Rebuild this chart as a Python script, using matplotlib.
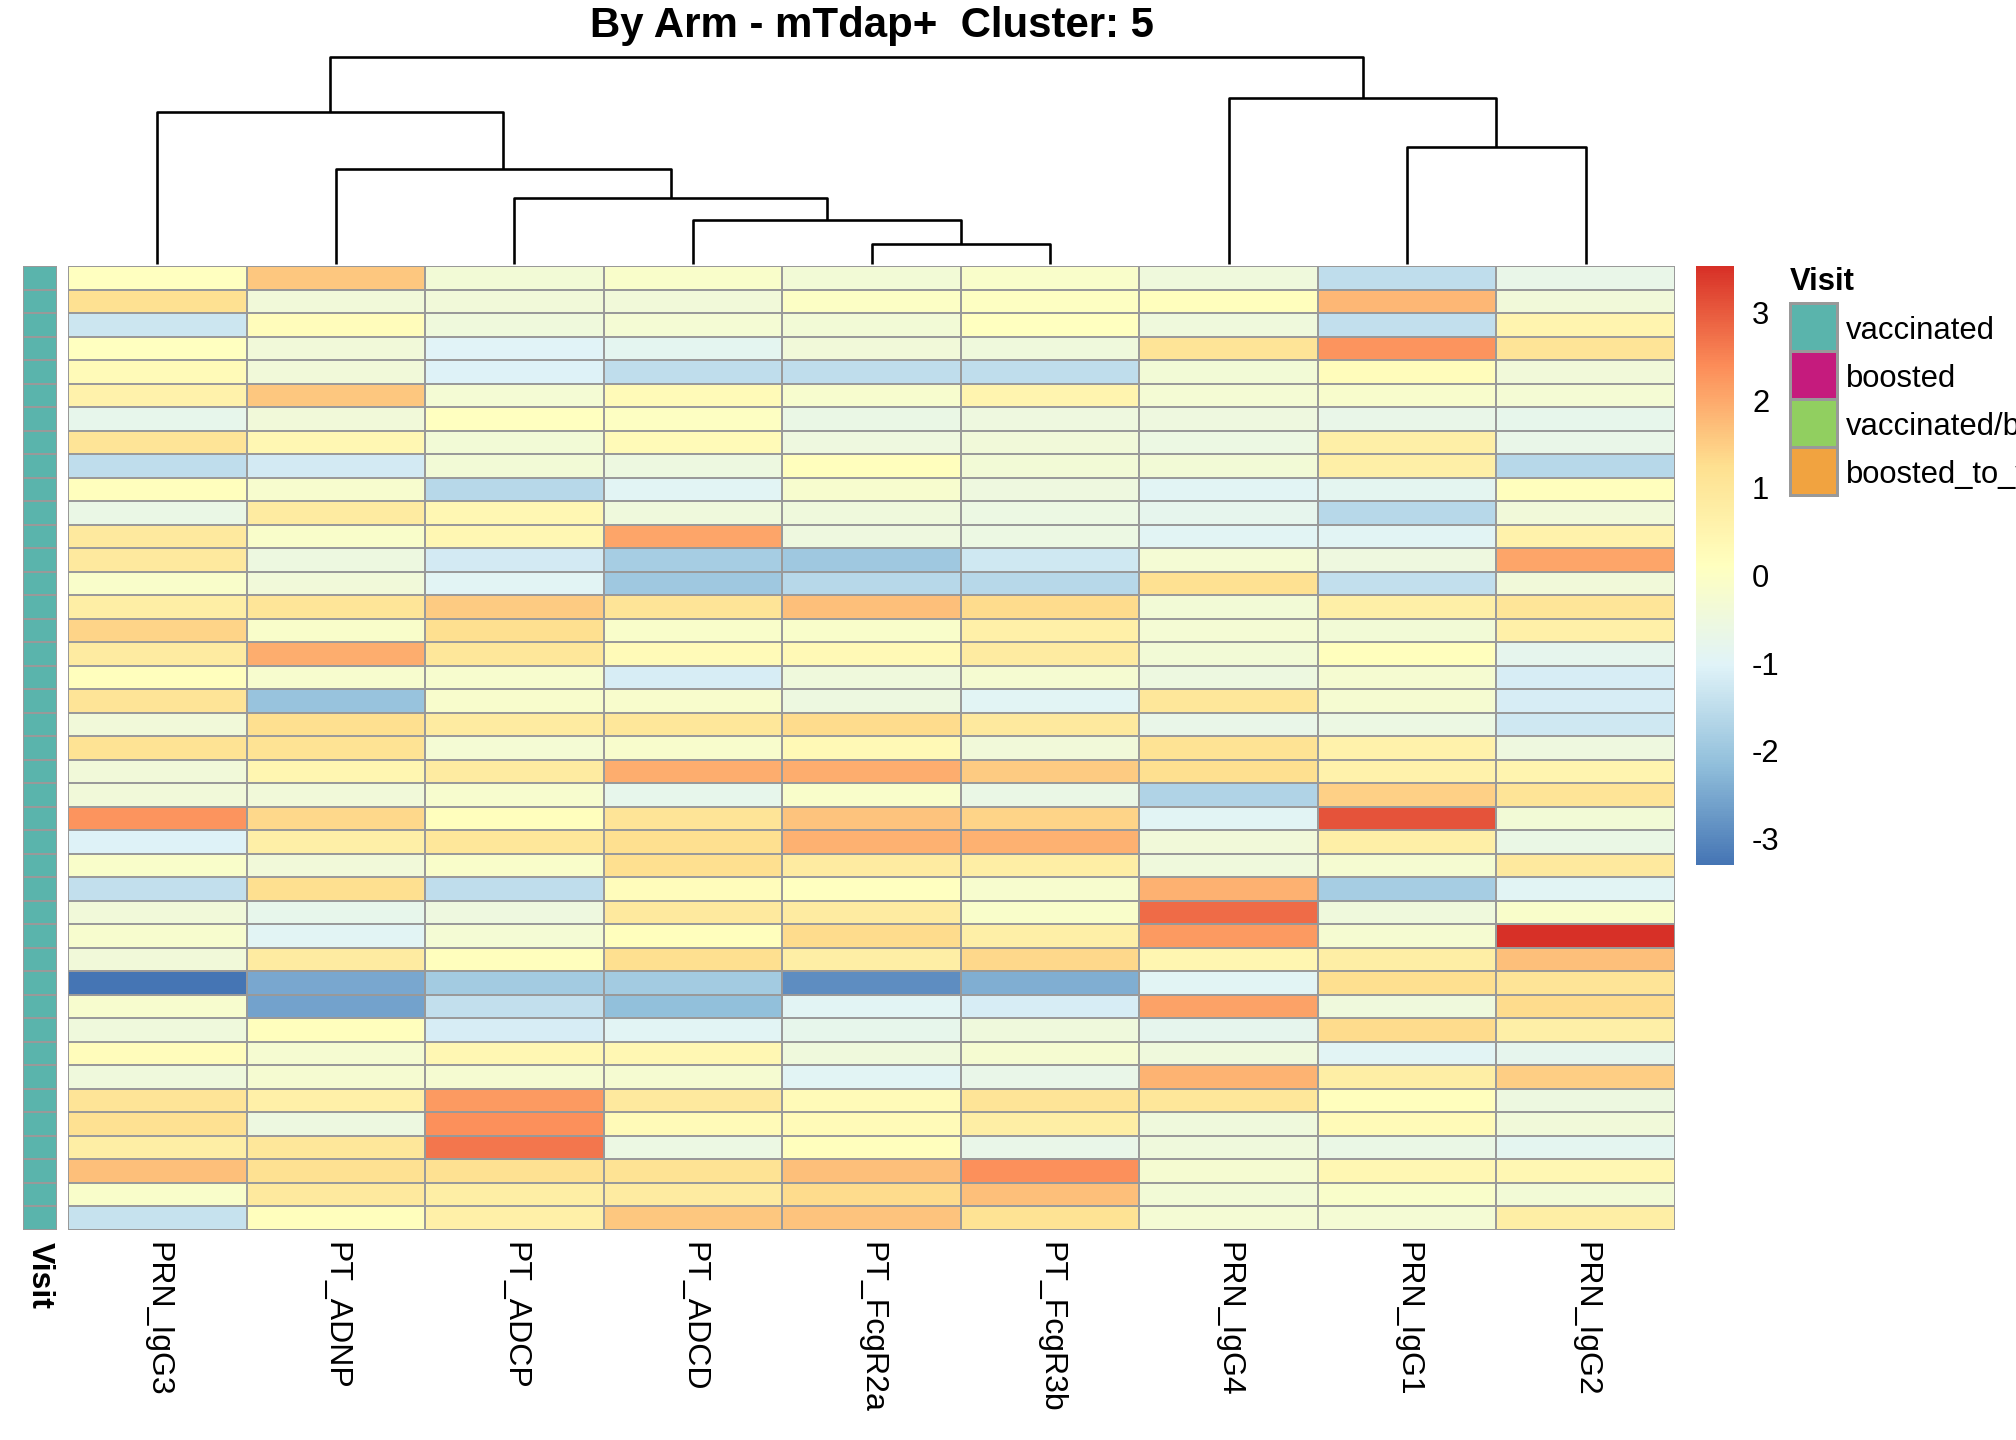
import matplotlib
matplotlib.use("Agg")
import matplotlib.pyplot as plt
import numpy as np
from matplotlib.colors import LinearSegmentedColormap
from matplotlib.patches import Rectangle

plt.rcParams["font.family"] = ["Liberation Sans", "DejaVu Sans"]
plt.rcParams["axes.unicode_minus"] = False

title = "By Arm - mTdap+  Cluster: 5"
columns = ["PRN_IgG3", "PT_ADNP", "PT_ADCP", "PT_ADCD", "PT_FcgR2a",
           "PT_FcgR3b", "PRN_IgG4", "PRN_IgG1", "PRN_IgG2"]

# z-scores, one row per sample (top to bottom), columns in the order above
values = [
    [0.10, 1.60, -0.35, -0.10, -0.35, -0.10, -0.45, -1.50, -0.70],
    [1.20, -0.40, -0.40, -0.40, 0.00, 0.05, 0.15, 1.80, -0.40],
    [-1.30, 0.20, -0.45, -0.30, -0.35, 0.10, -0.45, -1.45, 0.50],
    [0.10, -0.40, -1.00, -0.85, -0.40, -0.45, 1.10, 2.30, 1.10],
    [0.30, -0.40, -1.05, -1.50, -1.50, -1.50, -0.35, 0.20, -0.40],
    [0.60, 1.60, -0.30, 0.30, -0.20, 0.50, -0.30, -0.15, -0.30],
    [-0.75, -0.40, 0.10, 0.05, -0.65, -0.50, -0.50, -0.70, -0.75],
    [1.10, 0.40, -0.35, 0.30, -0.50, -0.40, -0.60, 0.70, -0.70],
    [-1.50, -1.20, -0.35, -0.55, 0.15, -0.35, -0.35, 0.70, -1.60],
    [0.15, -0.20, -1.60, -0.95, -0.20, -0.50, -0.95, -0.85, 0.15],
    [-0.65, 0.85, 0.40, -0.45, -0.45, -0.60, -0.80, -1.60, -0.40],
    [0.90, -0.10, 0.40, 2.05, -0.50, -0.60, -0.95, -0.95, 0.60],
    [0.90, -0.55, -1.20, -1.85, -1.95, -1.25, -0.30, -0.50, 2.05],
    [-0.10, -0.40, -0.95, -1.95, -1.60, -1.60, 1.20, -1.45, -0.40],
    [0.75, 1.05, 1.55, 1.10, 1.70, 1.30, -0.35, 0.70, 1.05],
    [1.40, -0.10, 1.25, -0.10, -0.10, 0.65, -0.30, -0.35, 0.65],
    [0.85, 1.95, 1.00, 0.30, 0.35, 0.85, -0.35, 0.15, -0.80],
    [0.15, -0.20, -0.20, -1.15, -0.45, -0.25, -0.55, -0.25, -1.15],
    [1.10, -2.05, -0.15, -0.15, -0.55, -0.95, 1.00, -0.25, -1.15],
    [-0.40, 1.25, 0.85, 1.00, 1.30, 0.90, -0.70, -0.60, -1.25],
    [1.15, 1.15, -0.30, -0.15, 0.35, -0.40, 1.15, 0.60, -0.50],
    [-0.40, 0.45, 0.85, 1.95, 1.95, 1.55, 1.25, 0.60, 0.50],
    [-0.40, -0.40, -0.20, -0.75, -0.10, -0.65, -1.70, 1.45, 1.10],
    [2.30, 1.35, 0.15, 1.10, 1.65, 1.40, -0.95, 3.10, -0.35],
    [-1.05, 0.70, 1.00, 1.25, 1.90, 1.90, -0.40, 0.70, -0.65],
    [-0.10, -0.40, -0.10, 1.25, 0.85, 0.75, -0.45, -0.25, 0.90],
    [-1.45, 1.25, -1.50, 0.20, 0.10, -0.20, 1.90, -1.85, -0.95],
    [-0.40, -0.75, -0.50, 0.90, 0.85, -0.10, 2.80, -0.45, -0.10],
    [-0.20, -0.95, -0.30, 0.15, 1.30, 0.70, 2.20, -0.25, 3.53],
    [-0.40, 0.85, 0.15, 1.25, 0.75, 1.35, 0.45, 0.75, 1.70],
    [-3.30, -2.50, -1.90, -1.90, -2.90, -2.40, -0.95, 1.25, 1.10],
    [-0.20, -2.60, -1.45, -2.15, -0.95, -1.15, 2.10, -0.45, 1.30],
    [-0.45, 0.15, -1.15, -0.95, -0.75, -0.45, -0.80, 1.30, 0.70],
    [0.20, -0.25, 0.40, 0.40, -0.45, -0.25, -0.45, -0.95, -0.80],
    [-0.45, -0.25, -0.25, -0.25, -0.95, -0.70, 1.85, 0.75, 1.50],
    [1.10, 0.65, 2.20, 0.90, 0.30, 1.10, 1.00, 0.15, -0.55],
    [1.20, -0.55, 2.35, 0.30, 0.30, 0.75, -0.45, 0.30, -0.40],
    [0.75, 1.00, 2.65, -0.60, 0.15, -0.70, -0.45, -0.65, -0.85],
    [1.70, 1.20, 1.20, 1.15, 1.70, 2.35, -0.25, 0.40, 0.40],
    [-0.10, 0.90, 0.75, 0.85, 1.30, 1.70, -0.35, -0.10, -0.35],
    [-1.40, 0.15, 0.65, 1.60, 1.65, 1.15, -0.30, -0.30, 0.75],
]

# column dendrogram: leaves 0..8, new nodes numbered from 9 on
merge_pairs = [(4, 5), (3, 9), (2, 10), (1, 11), (0, 12), (7, 8), (6, 14), (13, 15)]
merge_heights = [16, 35, 52, 75, 120, 92, 131, 163]

visit_levels = ["vaccinated", "boosted", "vaccinated/boosted", "boosted_to_vaccinated"]
visit_colors = ["#5AB4AC", "#C51B7D", "#91CF60", "#F1A340"]
row_visit = ["vaccinated"] * len(values)

data = np.array(values)
n_rows, n_cols = data.shape
cmap = LinearSegmentedColormap.from_list(
    "rdylbu_r", ["#4575B4", "#91BFDB", "#E0F3F8", "#FFFFBF", "#FEE090", "#FC8D59", "#D73027"])
vmin, vmax = data.min(), data.max()
border = "#999999"
fs = 15.5

fig = plt.figure(figsize=(14, 10), dpi=144)
W, H = 2016, 1440


def box(x0, y0, x1, y1):
    return [x0 / W, 1 - y1 / H, (x1 - x0) / W, (y1 - y0) / H]


# main heatmap
ax = fig.add_axes(box(68, 266, 1675, 1230))
ax.pcolormesh(data, cmap=cmap, vmin=vmin, vmax=vmax, edgecolors=border, linewidth=1.0)
ax.set_xlim(0, n_cols)
ax.set_ylim(n_rows, 0)
ax.axis("off")
for i, name in enumerate(columns):
    ax.text(i + 0.5, -0.012, name, transform=ax.get_xaxis_transform(), rotation=270,
            ha="center", va="top", fontsize=16)

# visit annotation strip
ax_ann = fig.add_axes(box(23, 266, 57, 1230))
codes = np.array([[visit_levels.index(v)] for v in row_visit])
ann_cmap = matplotlib.colors.ListedColormap(visit_colors)
ax_ann.pcolormesh(codes, cmap=ann_cmap, vmin=-0.5, vmax=len(visit_levels) - 0.5,
                  edgecolors=border, linewidth=1.0)
ax_ann.set_xlim(0, 1)
ax_ann.set_ylim(n_rows, 0)
ax_ann.axis("off")
ax_ann.text(0.5, -0.012, "Visit", transform=ax_ann.get_xaxis_transform(), rotation=270,
            ha="center", va="top", fontsize=16, fontweight="bold")

# dendrogram on top
ax_d = fig.add_axes(box(68, 57, 1675, 266))
pos = {i: i + 0.5 for i in range(n_cols)}
hgt = {i: 0.0 for i in range(n_cols)}
for k, ((a, b), h) in enumerate(zip(merge_pairs, merge_heights)):
    node = n_cols + k
    ax_d.plot([pos[a], pos[a], pos[b], pos[b]], [hgt[a], h, h, hgt[b]],
              color="black", lw=1.3, clip_on=False, solid_capstyle="butt")
    pos[node] = (pos[a] + pos[b]) / 2
    hgt[node] = h
ax_d.set_xlim(0, n_cols)
ax_d.set_ylim(-1.5, max(merge_heights))
ax_d.axis("off")

fig.text(872 / W, 1 - 26 / H, title, ha="center", va="center", fontsize=21, fontweight="bold")

# colour key
cax = fig.add_axes(box(1696, 266, 1734, 865))
sm = plt.cm.ScalarMappable(cmap=cmap, norm=plt.Normalize(vmin, vmax))
cb = fig.colorbar(sm, cax=cax, ticks=[-3, -2, -1, 0, 1, 2, 3])
cb.outline.set_visible(False)
cb.ax.tick_params(length=0, labelsize=fs, pad=9)
cb.ax.set_yticklabels([str(t) for t in range(-3, 4)])

# visit legend
fig.text(1790 / W, 1 - 290 / H, "Visit", ha="left", va="baseline",
         fontsize=fs, fontweight="bold")
for i, (lab, col) in enumerate(zip(visit_levels, visit_colors)):
    y0 = 303 + i * 48
    fig.add_artist(Rectangle((1790 / W, 1 - (y0 + 48) / H), 47 / W, 48 / H,
                             facecolor=col, edgecolor=border, linewidth=1.5,
                             transform=fig.transFigure))
    fig.text(1846 / W, 1 - (y0 + 28) / H, lab, ha="left", va="center", fontsize=fs)

fig.savefig("out.png", dpi=144)
